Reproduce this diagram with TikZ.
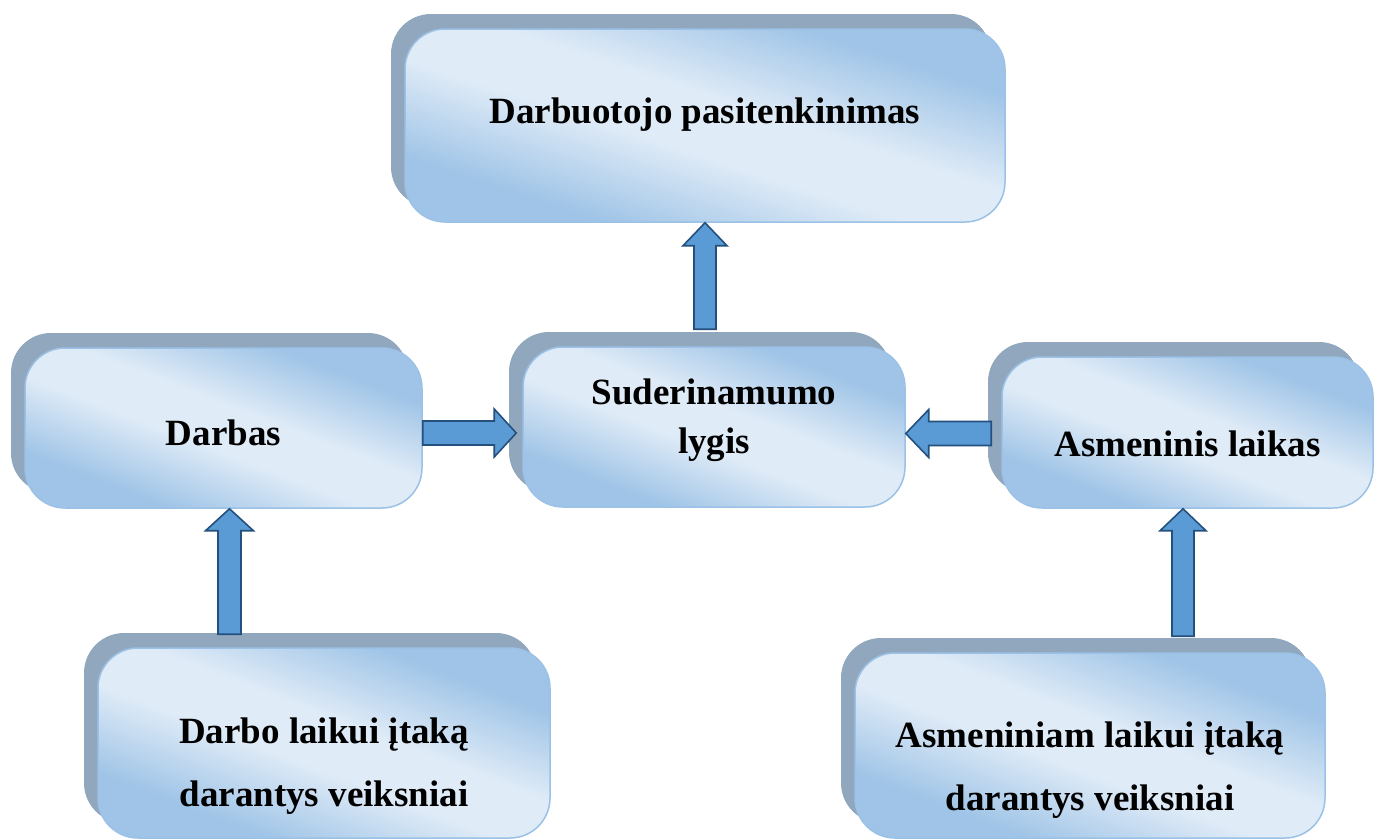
\documentclass[tikz,border=0pt]{standalone}
\usepackage{fontspec}
\setmainfont{Liberation Serif}
\usetikzlibrary{shadows,calc}
\definecolor{shadowgrey}{HTML}{91A7BE}
\definecolor{boxdark}{HTML}{9FC4E7}
\definecolor{boxlight}{HTML}{DFEBF7}
\definecolor{boxedge}{HTML}{9BC2E6}
\definecolor{arrowfill}{HTML}{5B9BD5}
\definecolor{arrowedge}{HTML}{24507D}
% light band along the box diagonal, darker towards two corners
\pgfdeclareverticalshading{boxshade}{100bp}{color(0bp)=(boxdark); color(29bp)=(boxdark);
    color(45bp)=(boxlight); color(55bp)=(boxlight); color(71bp)=(boxdark); color(100bp)=(boxdark)}
\tikzstyle{factor}=[draw=boxedge, line width=1.5pt, rounded corners=40pt, inner sep=0,
                    shade, shading=boxshade, shading angle=-21,
                    % grey copy behind, up and to the left
                    drop shadow={shadow xshift=-14pt, shadow yshift=15pt, fill=shadowgrey, opacity=1}]
\tikzstyle{factortext}=[inner sep=0, align=center, font=\bfseries\fontsize{37}{49}\selectfont]
\tikzstyle{widetext}=[factortext, font=\bfseries\fontsize{37}{63}\selectfont]
\tikzstyle{blockarrow}=[draw=arrowedge, fill=arrowfill, line width=1.6pt, line join=miter]

\begin{document}
\begin{tikzpicture}[x=1pt, y=-1pt]
    \useasboundingbox (0, 0) rectangle (1379, 839);
    % boxes
    \node[factor, minimum width=600, minimum height=193, shading angle=-18] (pasit) at (705, 125.5) {};
    \node[factor, minimum width=397, minimum height=160] (darbas) at (223.5, 428) {};
    \node[factor, minimum width=382, minimum height=160] (suder) at (714, 427) {};
    \node[factor, minimum width=371, minimum height=151] (asmen) at (1187.5, 432.5) {};
    \node[factor, minimum width=452, minimum height=190] (darbveiks) at (324, 743) {};
    \node[factor, minimum width=470, minimum height=185] (asmveiks) at (1090, 745.5) {};
    % texts
    \node[factortext] (pasittext) at ([yshift=11pt]pasit.center) {Darbuotojo pasitenkinimas};
    \node[factortext] (darbastext) at ([yshift=-5pt]darbas.center) {Darbas};
    \node[factortext] (sudertext) at ([yshift=7pt]suder.center) {Suderinamumo\\lygis};
    \node[factortext] (asmentext) at ([yshift=-11pt]asmen.center) {Asmeninis laikas};
    \node[widetext] (darbveikstext) at ([yshift=-23pt]darbveiks.center) {Darbo laikui įtaką\\darantys veiksniai};
    \node[widetext] (asmveikstext) at ([yshift=-25pt]asmveiks.center) {Asmeniniam laikui įtaką\\darantys veiksniai};
    % block arrows
    \draw[blockarrow] let \p1=([yshift=17pt]suder.north), \p2=(pasit.south) in
        (\x2-11pt, \y1) -- (\x2-11pt, \y2-23pt) -- (\x2-22pt, \y2-23pt) -- (\x2, \y2)
        -- (\x2+22pt, \y2-23pt) -- (\x2+11pt, \y2-23pt) -- (\x2+11pt, \y1) -- cycle;
    \draw[blockarrow] let \p1=([yshift=-5pt]darbas.east), \p2=([xshift=-6pt]suder.west) in
        (\x1, \y1+12pt) -- (\x2-22pt, \y1+12pt) -- (\x2-22pt, \y1+24pt) -- (\x2, \y1)
        -- (\x2-22pt, \y1-24pt) -- (\x2-22pt, \y1-12pt) -- (\x1, \y1-12pt) -- cycle;
    \draw[blockarrow] let \p1=([xshift=-10pt, yshift=-1pt]asmen.west), \p2=(suder.east) in
        (\x1, \y1+12pt) -- (\x2+23pt, \y1+12pt) -- (\x2+23pt, \y1+24pt) -- (\x2, \y1)
        -- (\x2+23pt, \y1-24pt) -- (\x2+23pt, \y1-12pt) -- (\x1, \y1-12pt) -- cycle;
    \draw[blockarrow] let \p1=([yshift=13pt]darbveiks.north), \p2=([xshift=6pt]darbas.south) in
        (\x2-11.5pt, \y1) -- (\x2-11.5pt, \y2-22pt) -- (\x2-24pt, \y2-22pt) -- (\x2, \y2)
        -- (\x2+24pt, \y2-22pt) -- (\x2+11.5pt, \y2-22pt) -- (\x2+11.5pt, \y1) -- cycle;
    \draw[blockarrow] let \p1=([yshift=16pt]asmveiks.north), \p2=([xshift=-4.5pt]asmen.south) in
        (\x2-11pt, \y1) -- (\x2-11pt, \y2-22pt) -- (\x2-23pt, \y2-22pt) -- (\x2, \y2)
        -- (\x2+23pt, \y2-22pt) -- (\x2+11pt, \y2-22pt) -- (\x2+11pt, \y1) -- cycle;
\end{tikzpicture}
\end{document}
